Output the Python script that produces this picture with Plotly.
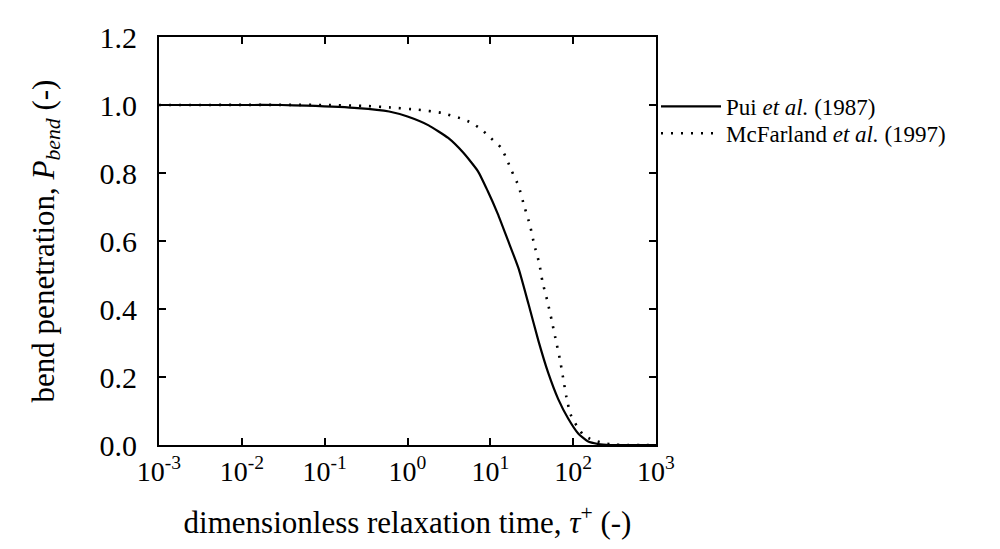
import plotly.graph_objects as go

# Pui et al. (1987): bend penetration vs dimensionless relaxation time
pui_tau = [0.001, 0.01, 0.03, 0.06, 0.25, 0.6, 1.0, 1.8, 3.1, 4.7, 7.1, 9.3,
           12.3, 16.2, 22, 29, 38, 50, 66, 87, 115, 150, 200, 280, 1000]
pui_p = [1.0, 1.0, 1.0, 0.998, 0.991, 0.981, 0.966, 0.940, 0.903, 0.860, 0.805, 0.747,
         0.680, 0.604, 0.518, 0.413, 0.307, 0.212, 0.135, 0.078, 0.034, 0.011, 0.003, 0.0, 0.0]

# McFarland et al. (1997)
mcf_tau = [0.001, 0.1, 0.32, 0.6, 1.35, 2.57, 4.47, 5.9, 7.8, 10.2, 13.5, 15.8,
           18.2, 21.9, 25.7, 30.2, 33.9, 38.9, 42.7, 49, 55, 61.7, 69.2, 75.9,
           83, 93, 110, 132, 170, 229, 316, 1000]
mcf_p = [1.0, 1.0, 0.997, 0.993, 0.986, 0.977, 0.960, 0.948, 0.928, 0.902, 0.874, 0.840,
         0.805, 0.762, 0.702, 0.645, 0.589, 0.535, 0.479, 0.422, 0.367, 0.309, 0.252, 0.195,
         0.140, 0.090, 0.057, 0.030, 0.015, 0.006, 0.001, 0.0]

x_ticks = [1e-3, 1e-2, 1e-1, 1e0, 1e1, 1e2, 1e3]
x_ticktext = ["10<sup>-3</sup>", "10<sup>-2</sup>", "10<sup>-1</sup>", "10<sup>0</sup>",
              "10<sup>1</sup>", "10<sup>2</sup>", "10<sup>3</sup>"]
y_ticks = [0.0, 0.2, 0.4, 0.6, 0.8, 1.0, 1.2]

FONT = "Liberation Serif, Times New Roman, serif"

fig = go.Figure()
fig.add_trace(go.Scatter(
    x=pui_tau, y=pui_p, mode="lines", name="Pui <i>et al.</i> (1987)",
    line=dict(color="black", width=2.2, shape="spline", smoothing=0.5),
    legend="legend"
))
fig.add_trace(go.Scatter(
    x=mcf_tau, y=mcf_p, mode="lines", name="McFarland <i>et al.</i> (1997)",
    line=dict(color="black", width=2.6, dash="2px,8px", shape="spline", smoothing=0.5),
    legend="legend2"
))

# one legend per entry so the two rows can sit as close as in the original
legend_style = dict(
    xanchor="left", yanchor="middle",
    font=dict(size=23), bgcolor="rgba(0,0,0,0)", borderwidth=0,
    itemwidth=60,
)

fig.update_layout(
    width=1000, height=549,
    margin=dict(l=151, r=352, t=19, b=112),
    paper_bgcolor="white", plot_bgcolor="white",
    font=dict(family=FONT, color="black", size=30),
    showlegend=True,
    legend=dict(x=1.0, y=0.830, **legend_style),
    legend2=dict(x=1.0, y=0.764, **legend_style),
)
fig.update_xaxes(
    type="log", range=[-3, 3],
    tickvals=x_ticks, ticktext=x_ticktext,
    ticks="inside", ticklen=7, tickwidth=1.5, tickcolor="black",
    showline=True, linecolor="black", linewidth=2, mirror="ticks",
    showgrid=False, zeroline=False,
    tickfont=dict(size=28),
    title=dict(text="dimensionless relaxation time, <i>τ</i><sup>+</sup> (-)",
               font=dict(size=31), standoff=26),
)
fig.update_yaxes(
    range=[0, 1.2],
    tickvals=y_ticks, ticktext=[f"{v:.1f}" for v in y_ticks],
    ticks="inside", ticklen=7, tickwidth=1.5, tickcolor="black",
    showline=True, linecolor="black", linewidth=2, mirror="ticks",
    showgrid=False, zeroline=False,
    tickfont=dict(size=30), ticklabelstandoff=14,
    title=dict(text="bend penetration, <i>P</i><sub><i>bend</i></sub> (-)",
               font=dict(size=31), standoff=36),
)

fig.write_html("out.html")
